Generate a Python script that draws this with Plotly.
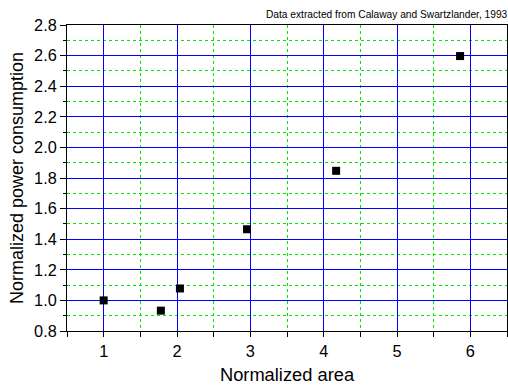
import plotly.graph_objects as go

area = [1.0, 1.78, 2.04, 2.955, 4.17, 5.86]
power = [1.0, 0.933, 1.078, 1.465, 1.847, 2.597]

x_ticks = [1, 2, 3, 4, 5, 6]
y_ticks = [0.8, 1.0, 1.2, 1.4, 1.6, 1.8, 2.0, 2.2, 2.4, 2.6, 2.8]

fig = go.Figure()
fig.add_trace(go.Scatter(
    x=area, y=power, mode="markers",
    marker=dict(symbol="square", size=8, color="black"),
    showlegend=False,
))

font = "Liberation Sans, Arial, sans-serif"
fig.update_layout(
    width=508, height=387,
    margin=dict(l=67, r=1, t=25, b=56),
    paper_bgcolor="white", plot_bgcolor="white",
    font=dict(family=font, color="black", size=16),
)
fig.update_xaxes(
    range=[0.5, 6.5], tickmode="linear", tick0=x_ticks[0],
    dtick=x_ticks[1] - x_ticks[0],
    showgrid=True, gridcolor="#0000ff", gridwidth=1,
    ticks="outside", ticklen=5, tickcolor="black",
    showline=True, linecolor="black", linewidth=1, mirror=True,
    zeroline=False,
    minor=dict(dtick=0.5, tick0=0.5, showgrid=True, gridcolor="#00e600",
               griddash="dot", gridwidth=1, ticks="outside", ticklen=5,
               tickcolor="black"),
    title=dict(text="Normalized area", font=dict(size=18.3), standoff=9),
    tickfont=dict(size=16.3),
)
fig.update_yaxes(
    range=[0.8, 2.8], tickmode="linear", tick0=y_ticks[0],
    dtick=round(y_ticks[1] - y_ticks[0], 2), tickformat=".1f",
    showgrid=True, gridcolor="#0000ff", gridwidth=1,
    ticks="outside", ticklen=6, tickcolor="black",
    showline=True, linecolor="black", linewidth=1, mirror=True,
    zeroline=False,
    minor=dict(dtick=0.1, tick0=0.8, showgrid=True, gridcolor="#00e600",
               griddash="dot", gridwidth=1, ticks="outside", ticklen=3,
               tickcolor="black"),
    title=dict(text="Normalized power consumption", font=dict(size=18), standoff=5),
    tickfont=dict(size=16.3),
)
fig.add_annotation(
    text="Data extracted from Calaway and Swartzlander, 1993",
    xref="paper", yref="paper", x=1, y=1, xanchor="right", yanchor="bottom",
    xshift=3, yshift=3, showarrow=False, font=dict(size=10.2, family=font),
)
fig.write_html("out.html")
